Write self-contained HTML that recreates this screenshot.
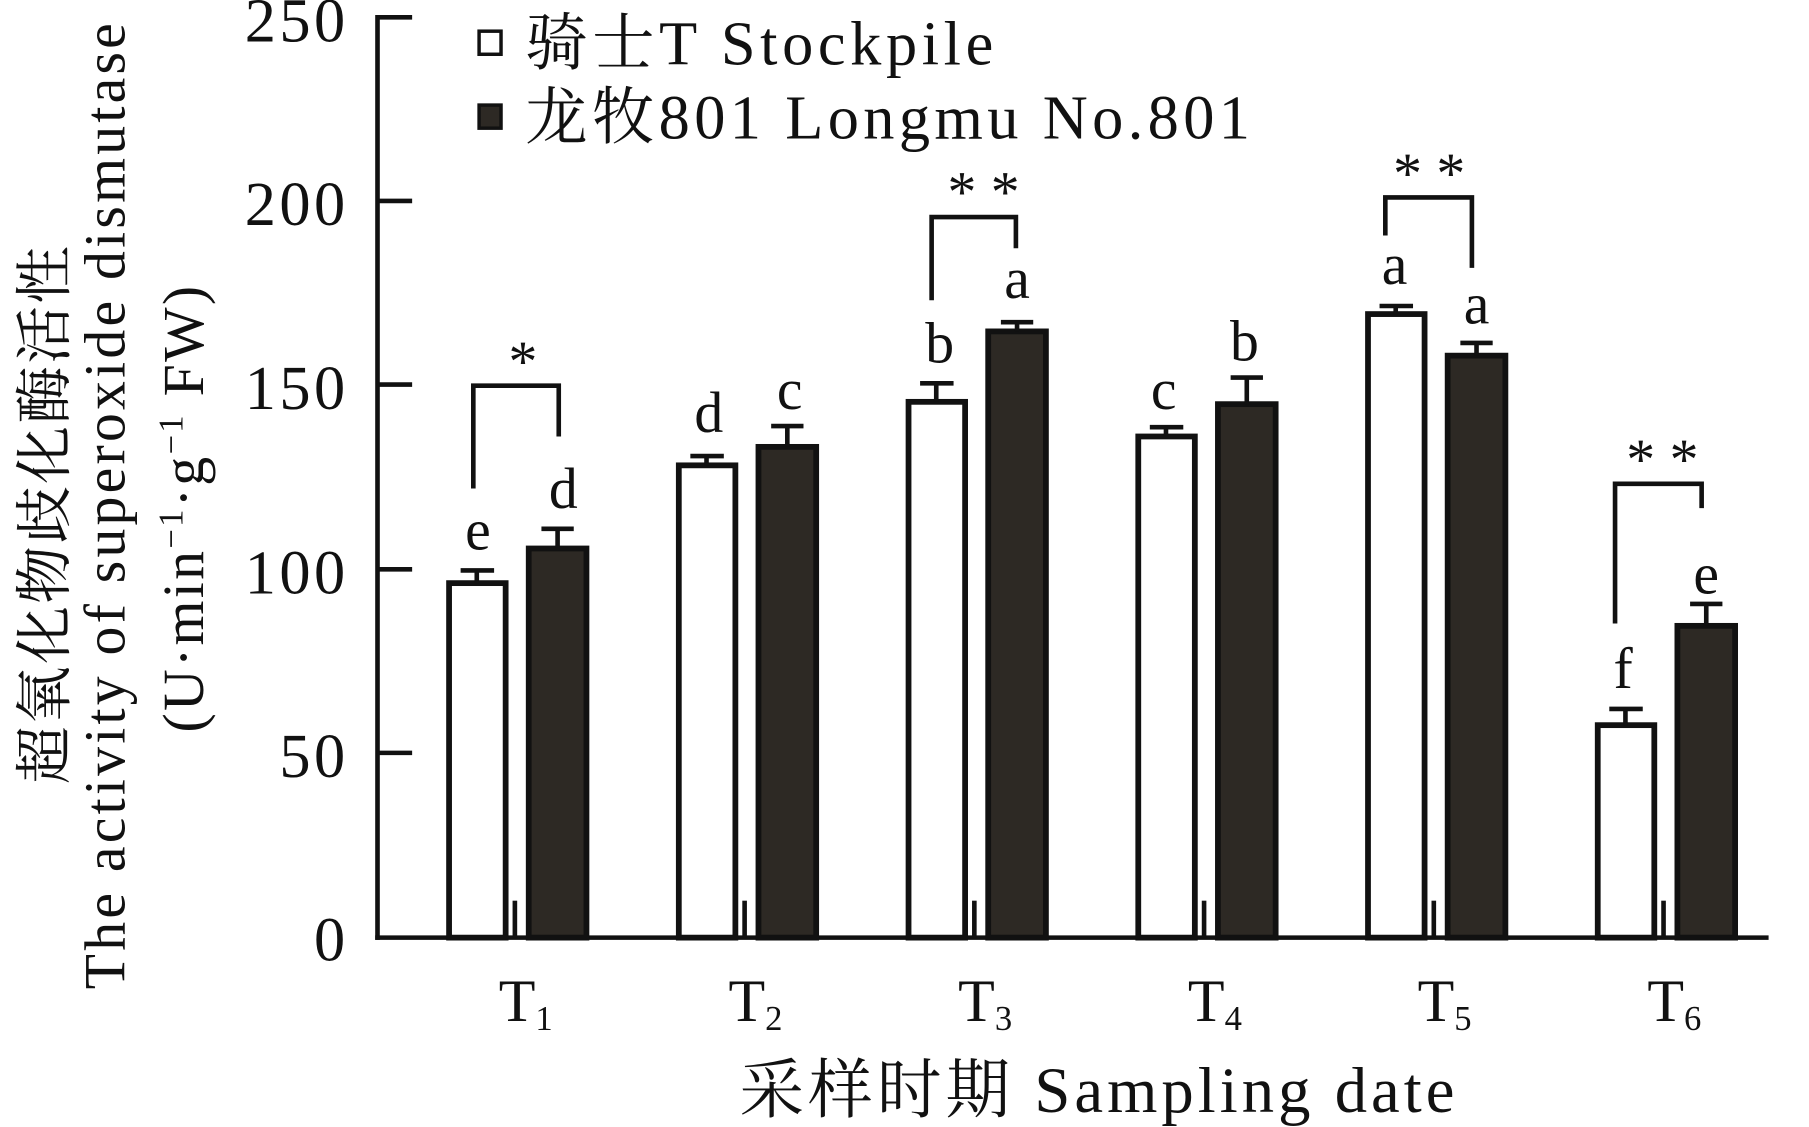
<!DOCTYPE html>
<html><head><meta charset="utf-8"><style>html,body{margin:0;padding:0;background:#fff}svg{display:block}</style></head>
<body>
<svg width="1809" height="1127" viewBox="0 0 1567 976" preserveAspectRatio="none" xmlns="http://www.w3.org/2000/svg" font-family="'Liberation Serif','Noto Serif CJK SC',serif" fill="#111">
<g stroke="#111" stroke-width="4" fill="none">
<line x1="327" y1="13" x2="327" y2="814"/>
<line x1="325" y1="812" x2="1532" y2="812"/>
<line x1="327" y1="15" x2="357" y2="15"/>
<line x1="327" y1="174" x2="357" y2="174"/>
<line x1="327" y1="333" x2="357" y2="333"/>
<line x1="327" y1="493" x2="357" y2="493"/>
<line x1="327" y1="652" x2="357" y2="652"/>
<line x1="446" y1="780" x2="446" y2="812"/><line x1="645" y1="780" x2="645" y2="812"/><line x1="844" y1="780" x2="844" y2="812"/><line x1="1043" y1="780" x2="1043" y2="812"/><line x1="1242" y1="780" x2="1242" y2="812"/><line x1="1441" y1="780" x2="1441" y2="812"/>
</g>
<g font-size="54" letter-spacing="3" text-anchor="end">
<text x="302" y="36">250</text><text x="302" y="195">200</text><text x="302" y="354">150</text><text x="302" y="514">100</text><text x="302" y="673">50</text><text x="302" y="832">0</text>
</g>
<g stroke="#111" stroke-width="5">
<rect x="389" y="505" width="49" height="307" fill="#fff"/>
<rect x="458" y="475" width="50" height="337" fill="#2d2924"/>
<rect x="588" y="403" width="49" height="409" fill="#fff"/>
<rect x="657" y="387" width="50" height="425" fill="#2d2924"/>
<rect x="787" y="348" width="49" height="464" fill="#fff"/>
<rect x="856" y="287" width="50" height="525" fill="#2d2924"/>
<rect x="986" y="378" width="49" height="434" fill="#fff"/>
<rect x="1055" y="350" width="50" height="462" fill="#2d2924"/>
<rect x="1185" y="272" width="49" height="540" fill="#fff"/>
<rect x="1254" y="308" width="50" height="504" fill="#2d2924"/>
<rect x="1384" y="628" width="49" height="184" fill="#fff"/>
<rect x="1453" y="542" width="50" height="270" fill="#2d2924"/>
</g>
<g stroke="#111" stroke-width="4" fill="none">
<path d="M413 505V494M399 494H428"/>
<path d="M483 475V458M469 458H497"/>
<path d="M612 403V395M598 395H627"/>
<path d="M682 387V369M668 369H696"/>
<path d="M811 348V332M797 332H826"/>
<path d="M881 287V279M867 279H895"/>
<path d="M1010 378V370M996 370H1025"/>
<path d="M1080 350V327M1066 327H1094"/>
<path d="M1209 272V265M1195 265H1224"/>
<path d="M1279 308V297M1265 297H1293"/>
<path d="M1408 628V614M1394 614H1423"/>
<path d="M1478 542V523M1464 523H1492"/>
<path d="M410 423V334H484V378"/>
<path d="M807 260V188H880V215"/>
<path d="M1200 204V171H1275V232"/>
<path d="M1399 540V419H1474V440"/>
</g>
<g font-size="50" text-anchor="middle">
<text x="414" y="476">e</text><text x="488" y="440">d</text>
<text x="614" y="374">d</text><text x="684" y="354">c</text>
<text x="814" y="314">b</text><text x="881" y="258">a</text>
<text x="1008" y="354">c</text><text x="1078" y="312">b</text>
<text x="1208" y="246">a</text><text x="1279" y="280">a</text>
<text x="1406" y="596">f</text><text x="1478" y="514">e</text>
</g>
<g font-size="50" text-anchor="middle">
<text x="453" y="330">*</text>
<text x="852" y="183">* *</text>
<text x="1238" y="167">* *</text>
<text x="1440" y="415">* *</text>
</g>
<g font-size="52">
<text x="432" y="884">T<tspan font-size="30" dy="8">1</tspan></text>
<text x="631" y="884">T<tspan font-size="30" dy="8">2</tspan></text>
<text x="830" y="884">T<tspan font-size="30" dy="8">3</tspan></text>
<text x="1029" y="884">T<tspan font-size="30" dy="8">4</tspan></text>
<text x="1228" y="884">T<tspan font-size="30" dy="8">5</tspan></text>
<text x="1427" y="884">T<tspan font-size="30" dy="8">6</tspan></text>
</g>
<text x="952" y="963" font-size="56" letter-spacing="3.5" text-anchor="middle">采样时期 Sampling date</text>
<rect x="415" y="27" width="19" height="20" fill="#fff" stroke="#111" stroke-width="3"/>
<rect x="415" y="91" width="19" height="20" fill="#2d2924" stroke="#111" stroke-width="3"/>
<text x="455" y="56" font-size="54" letter-spacing="4">骑士T Stockpile</text>
<text x="455" y="120" font-size="54" letter-spacing="3.8">龙牧801 Longmu No.801</text>
<g transform="rotate(-90)" text-anchor="middle" font-size="50" letter-spacing="2">
<text x="-445" y="56">超氧化物歧化酶活性</text>
<text x="-437" y="108" letter-spacing="2.8">The activity of superoxide dismutase</text>
<text x="-440" y="176">(U·min<tspan font-size="30" dy="-18">−1</tspan><tspan dy="18">·g</tspan><tspan font-size="30" dy="-18">−1</tspan><tspan dy="18"> FW)</tspan></text>
</g>
</svg>
</body></html>
